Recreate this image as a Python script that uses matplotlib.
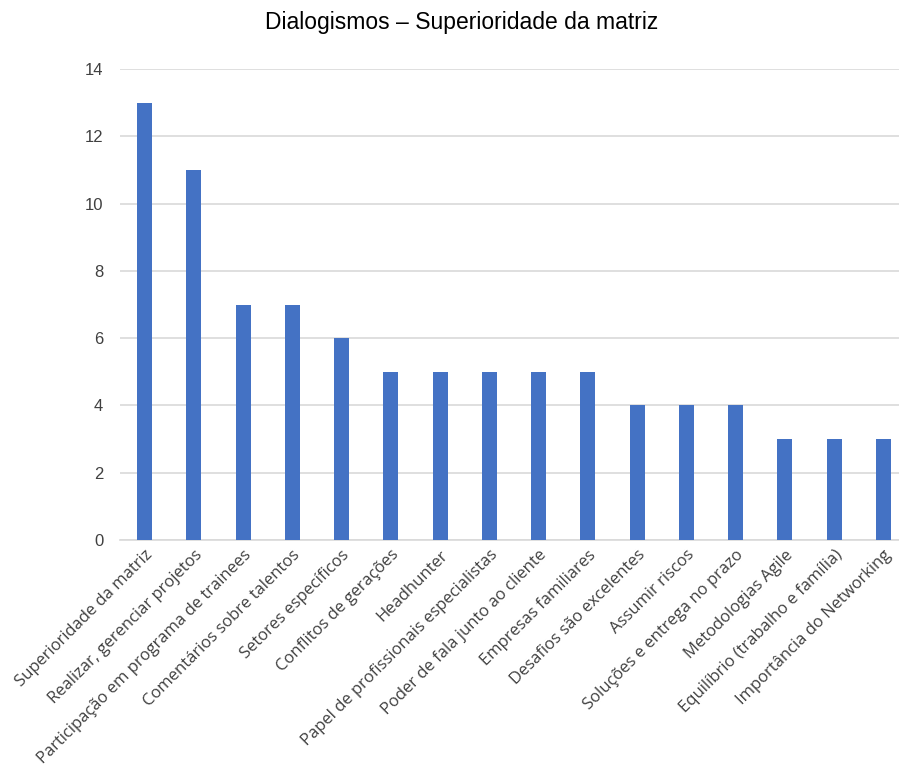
import matplotlib
matplotlib.use("Agg")
import matplotlib.pyplot as plt

categories = [
    "Superioridade da matriz",
    "Realizar, gerenciar projetos",
    "Participação em programa de trainees",
    "Comentários sobre talentos",
    "Setores específicos",
    "Conflitos de gerações",
    "Headhunter",
    "Papel de profissionais especialistas",
    "Poder de fala junto ao cliente",
    "Empresas familiares",
    "Desafios são excelentes",
    "Assumir riscos",
    "Soluções e entrega no prazo",
    "Metodologias Agile",
    "Equilíbrio (trabalho e família)",
    "Importância do Networking",
]
values = [13, 11, 7, 7, 6, 5, 5, 5, 5, 5, 4, 4, 4, 3, 3, 3]
yticks = [0, 2, 4, 6, 8, 10, 12, 14]

BAR = "#4472C4"
GRID = "#d9d9d9"
TXT = "#404040"

fig = plt.figure(figsize=(8.99, 7.68), dpi=100)
ax = fig.add_axes([120 / 899, 1 - 540 / 768, (908 - 120) / 899, (540 - 69) / 768])

x = range(len(categories))
ax.bar(x, values, width=0.3, color=BAR, zorder=3)

ax.set_xlim(-0.5, len(categories) - 0.5)
ax.set_ylim(0, 14)
ax.set_yticks(yticks)
ax.set_yticklabels([str(v) for v in yticks], fontsize=12, color=TXT,
                   family="Liberation Sans")
ax.yaxis.grid(True, color=GRID, linewidth=1.2, zorder=0)
ax.tick_params(axis="y", length=0, pad=12)
ax.tick_params(axis="x", length=0, pad=5)

ax.set_xticks(list(x))
ax.set_xticklabels(categories, rotation=45, ha="right", rotation_mode="anchor",
                   fontsize=12, color=TXT, family="Open Sans")

for side in ("top", "right", "left"):
    ax.spines[side].set_visible(False)
ax.spines["bottom"].set_color(GRID)
ax.spines["bottom"].set_linewidth(1.2)

fig.text(462 / 899, 1 - 23 / 768, "Dialogismos \u2013 Superioridade da matriz",
         ha="center", va="center", fontsize=16.5, color="black",
         family="Liberation Sans")

fig.savefig("out.png", dpi=100)
